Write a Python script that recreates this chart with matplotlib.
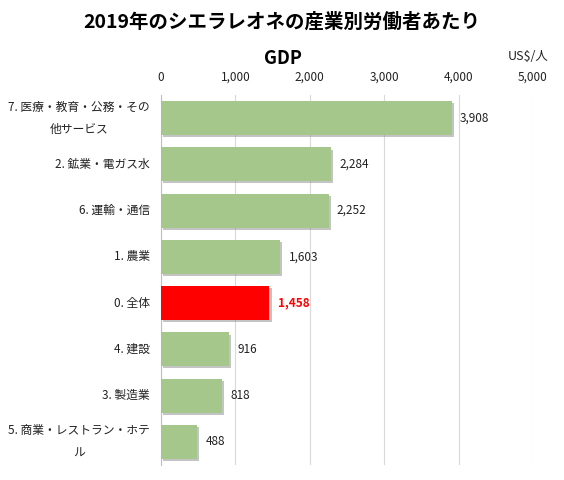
import matplotlib
matplotlib.use('Agg')
import matplotlib.pyplot as plt
import matplotlib.patheffects as pe
import matplotlib.transforms as mtransforms

plt.rcParams['font.family'] = ['Noto Sans CJK JP', 'DejaVu Sans']

categories = ['7. 医療・教育・公務・その\n他サービス', '2. 鉱業・電ガス水', '6. 運輸・通信',
              '1. 農業', '0. 全体', '4. 建設', '3. 製造業', '5. 商業・レストラン・ホテ\nル']
values = [3908, 2284, 2252, 1603, 1458, 916, 818, 488]
highlight = '0. 全体'
ticks = [0, 1000, 2000, 3000, 4000, 5000]

fig = plt.figure(figsize=(5.64, 4.80), dpi=100)
ax = fig.add_axes([161 / 564, 1 - 465 / 480, 372 / 564, 370 / 480])

green = '#a5c78b'
red = '#ff0000'
colors = [red if c == highlight else green for c in categories]
ypos = list(range(len(categories)))

shadow = [pe.SimplePatchShadow(offset=(1.5, -1.5), shadow_rgbFace='#8a8a8a', alpha=0.5), pe.Normal()]
bars = ax.barh(ypos, values, height=0.73, color=colors, zorder=3)
for b in bars:
    b.set_path_effects(shadow)

for y, v, c in zip(ypos, values, categories):
    is_hi = c == highlight
    ax.text(v + 110, y, f'{v:,}', va='center', ha='left', fontsize=8.5,
            color=red if is_hi else '#222222', fontweight='bold' if is_hi else 'normal')

# category labels: right-aligned block, centred lines
trans = mtransforms.blended_transform_factory(ax.transAxes, ax.transData)
for y, c in zip(ypos, categories):
    ax.text(-0.03, y, c, transform=trans, ha='right', va='center', multialignment='center',
            fontsize=8.5, color='#222222', linespacing=1.9)

ax.set_xlim(0, 5000)
ax.set_ylim(len(categories) - 0.5, -0.5)
ax.set_xticks(ticks)
ax.set_xticklabels([f'{t:,}' for t in ticks], fontsize=8.5, color='#222222')
ax.xaxis.tick_top()
ax.tick_params(axis='x', length=0, pad=8)
ax.set_yticks([])
ax.grid(axis='x', color='#d9d9d9', linewidth=0.8, zorder=0)
for s in ['top', 'right', 'bottom']:
    ax.spines[s].set_visible(False)
ax.spines['left'].set_color('#bfbfbf')

fig.text(0.5, 1 - 22 / 480, '2019年のシエラレオネの産業別労働者あたり', ha='center', va='center',
         fontsize=14, fontweight='bold')
fig.text(283 / 564, 1 - 58 / 480, 'GDP', ha='center', va='center', fontsize=13, fontweight='bold')
fig.text(528 / 564, 1 - 57 / 480, 'US$/人', ha='center', va='center', fontsize=9, color='#222222')

fig.savefig('out.png', dpi=100)
